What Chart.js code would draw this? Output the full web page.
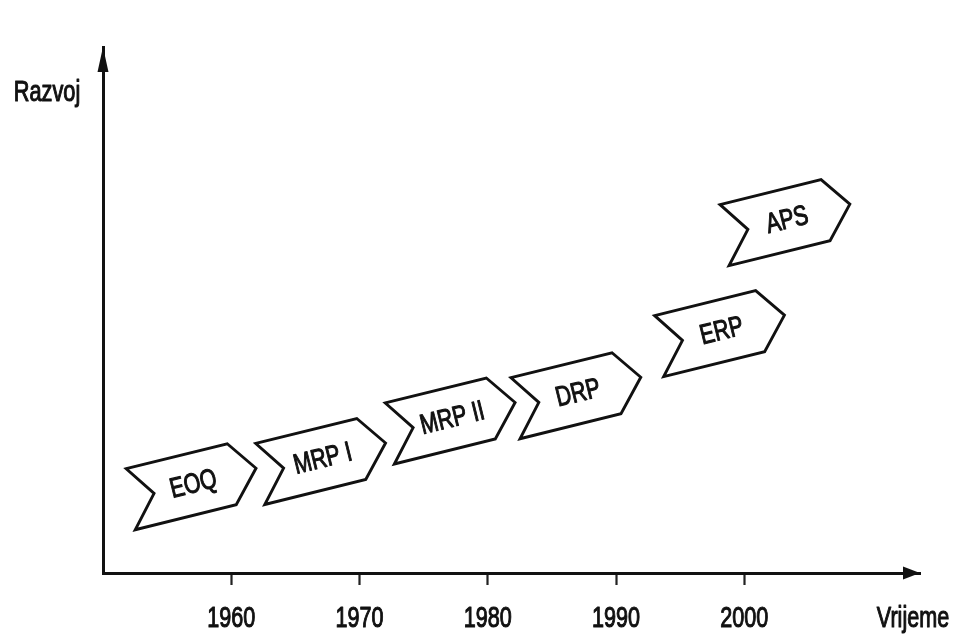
<!DOCTYPE html>
<html>
<head>
<meta charset="utf-8">
<script src="https://cdn.jsdelivr.net/npm/chart.js@4/dist/chart.umd.min.js"></script>
<style>
  html, body { margin: 0; padding: 0; background: #fff; }
  canvas { display: block; }
</style>
</head>
<body>
<canvas id="chart" width="954" height="635"></canvas>
<script>
// stages along the time axis (x = year at the middle of the chevron body, y = level of development)
const stageLabels = ['EOQ', 'MRP I', 'MRP II', 'DRP', 'ERP', 'APS'];
const stageYears = [1956.1, 1966.2, 1976.3, 1986.1, 1997.3, 2002.4];
const stageLevels = [16.4, 21.2, 28.9, 33.7, 45.5, 66.6];
const tickYears = [1960, 1970, 1980, 1990, 2000];
const xTitle = 'Vrijeme';
const yTitle = 'Razvoj';

const INK = '#111';
const FONT = "'Liberation Sans', Arial, sans-serif";

// chevron shape in its own frame: flat body with a notch on the left and a point on the right
const shape = [[-52, -31], [52, -31], [77, 0], [52, 31], [-52, 31], [-28, 0]];

// the reference lettering is a condensed, fairly heavy sans: squeeze a normal one and thicken it a little
const narrowText = (ctx, text, x, y, size, squeeze) => {
  ctx.save();
  ctx.translate(x, y);
  ctx.scale(squeeze, 1);
  ctx.font = size + 'px ' + FONT;
  ctx.fillStyle = INK;
  ctx.strokeStyle = INK;
  ctx.lineWidth = 1.1;
  ctx.lineJoin = 'round';
  ctx.fillText(text, 0, 0);
  ctx.strokeText(text, 0, 0);
  ctx.restore();
};

const chevrons = {
  id: 'chevrons',
  afterDatasetsDraw(chart) {
    const ctx = chart.ctx;
    const meta = chart.getDatasetMeta(0);
    meta.data.forEach((pt, i) => {
      ctx.save();
      ctx.translate(pt.x, pt.y);
      ctx.save();
      ctx.transform(0.971, -0.240, 0.145, 0.984, 0, 0);
      ctx.beginPath();
      shape.forEach(([u, v], k) => (k ? ctx.lineTo(u, v) : ctx.moveTo(u, v)));
      ctx.closePath();
      ctx.restore();
      ctx.fillStyle = '#fff';
      ctx.fill();
      ctx.lineWidth = 2.9;
      ctx.strokeStyle = INK;
      ctx.stroke();
      // label, turned with the chevron
      ctx.translate(12, -3);
      ctx.rotate(-13.9 * Math.PI / 180);
      ctx.textAlign = 'center';
      ctx.textBaseline = 'middle';
      narrowText(ctx, stageLabels[i], 0, 1, 28, 0.76);
      ctx.restore();
    });
  },
  afterDraw(chart) {
    const ctx = chart.ctx;
    const a = chart.chartArea;
    const xs = chart.scales.x;
    ctx.save();
    ctx.fillStyle = INK;
    // arrow heads on both axes
    ctx.beginPath();
    ctx.moveTo(a.right, a.bottom);
    ctx.lineTo(a.right - 17, a.bottom - 6.5);
    ctx.lineTo(a.right - 17, a.bottom + 6.5);
    ctx.closePath();
    ctx.fill();
    ctx.beginPath();
    ctx.moveTo(a.left, a.top);
    ctx.lineTo(a.left - 5.5, a.top + 25);
    ctx.lineTo(a.left + 5.5, a.top + 25);
    ctx.closePath();
    ctx.fill();
    // year labels under the tick marks of the x scale
    ctx.textAlign = 'center';
    ctx.textBaseline = 'alphabetic';
    tickYears.forEach((yr) => narrowText(ctx, String(yr), xs.getPixelForValue(yr), 627, 30, 0.72));
    // axis titles
    narrowText(ctx, yTitle, 47, 101, 29, 0.75);
    narrowText(ctx, xTitle, 913, 627, 30, 0.72);
    ctx.restore();
  }
};

new Chart(document.getElementById('chart'), {
  type: 'scatter',
  data: {
    datasets: [{
      data: stageYears.map((x, i) => ({ x, y: stageLevels[i] })),
      pointRadius: 0,
      pointHoverRadius: 0,
    }],
  },
  options: {
    responsive: false,
    animation: false,
    events: [],
    layout: { padding: { left: 103, right: 34, top: 47, bottom: 0 } },
    plugins: { legend: { display: false }, tooltip: { enabled: false } },
    scales: {
      x: {
        type: 'linear',
        min: 1950,
        max: 2013.7,
        afterBuildTicks: (s) => { s.ticks = tickYears.map((v) => ({ value: v })); },
        afterFit: (s) => { s.height = 62; },
        ticks: { color: 'rgba(0,0,0,0)', padding: 12, font: { family: FONT, size: 20 }, callback: (v) => String(v) },
        grid: { drawOnChartArea: false, tickLength: 12, tickWidth: 2.2, tickColor: '#222' },
        border: { color: INK, width: 3 },
      },
      y: {
        min: 0,
        max: 100,
        afterFit: (s) => { s.width = 0; },
        ticks: { display: false },
        grid: { display: false },
        border: { color: INK, width: 3 },
      },
    },
  },
  plugins: [chevrons],
});
</script>
</body>
</html>
